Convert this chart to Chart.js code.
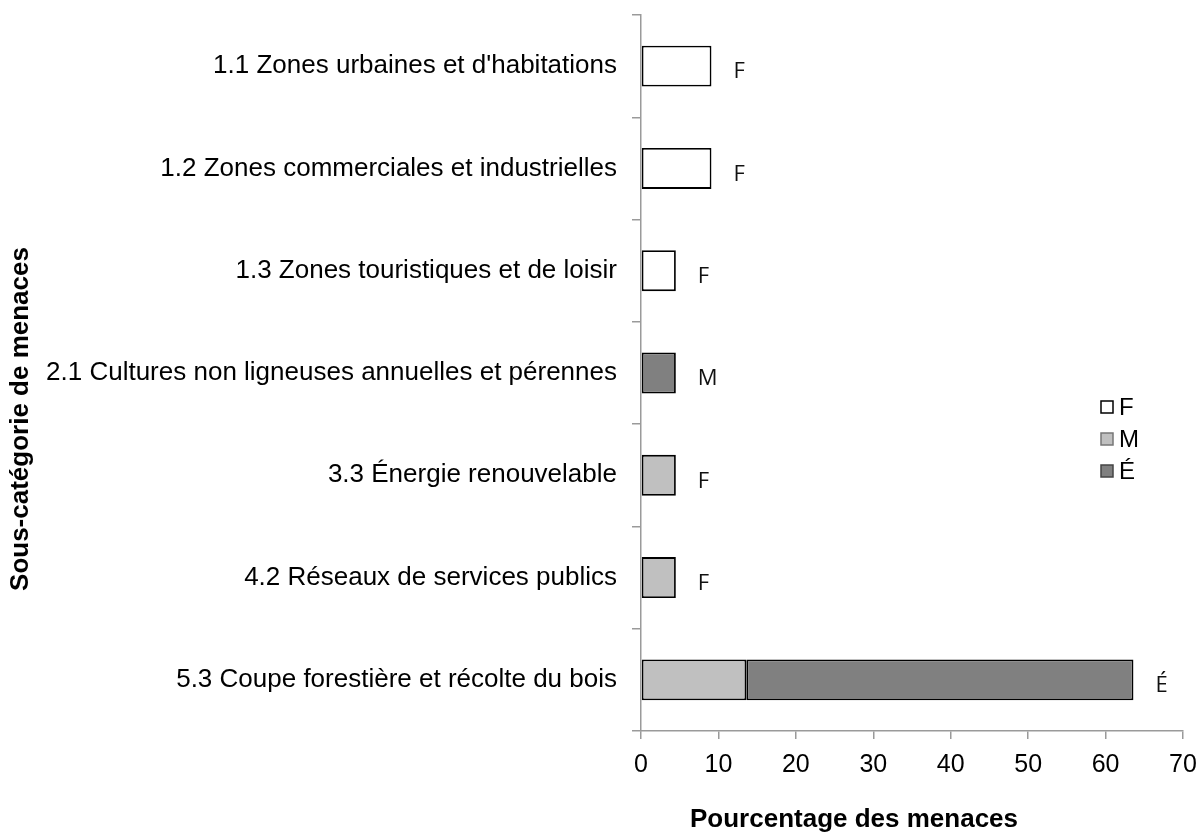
<!DOCTYPE html>
<html>
<head>
<meta charset="utf-8">
<script src="https://cdn.jsdelivr.net/npm/chart.js@4"></script>
<style>
  body { margin: 0; background: #fff; }
</style>
</head>
<body>
<canvas id="threatsChart" width="1201" height="833"></canvas>
<script>
// Sub-categories of threats (y axis, top to bottom)
const categories = [
    "1.1 Zones urbaines et d'habitations",
    "1.2 Zones commerciales et industrielles",
    "1.3 Zones touristiques et de loisir",
    "2.1 Cultures non ligneuses annuelles et pérennes",
    "3.3 Énergie renouvelable",
    "4.2 Réseaux de services publics",
    "5.3 Coupe forestière et récolte du bois"
];

// Percentage of threats per level (null = no bar)
const valuesF = [9.1, 9.1, 4.5, null, null, null, null];
const valuesM = [null, null, null, null, 4.5, 4.5, 13.6];
const valuesE = [null, null, null, 4.5, null, null, 50];

// Letter written at the end of each bar
const barLetters = ['F', 'F', 'F', 'M', 'F', 'F', 'É'];

const xTicks = [0, 10, 20, 30, 40, 50, 60, 70];

const axisGray = '#9a9a9a';

Chart.defaults.font.family = "'Liberation Sans', Arial, sans-serif";
Chart.defaults.font.size = 25;
Chart.defaults.color = '#000';

// Letters after the bars, axis titles and the small legend on the right
const extras = {
    id: 'extras',
    afterDraw(chart) {
        const ctx = chart.ctx;
        const x = chart.scales.x;
        const y = chart.scales.y;
        ctx.save();

        // letters
        ctx.font = "22px 'Open Sans', sans-serif";
        ctx.fillStyle = '#111';
        ctx.textAlign = 'left';
        ctx.textBaseline = 'middle';
        barLetters.forEach((letter, i) => {
            let end = 0;
            chart.data.datasets.forEach(ds => { end += ds.data[i] || 0; });
            ctx.fillText(letter, x.getPixelForValue(end) + 22, y.getPixelForValue(i) + 6);
        });

        // axis titles
        ctx.font = "bold 26px 'Liberation Sans', Arial, sans-serif";
        ctx.fillStyle = '#000';
        ctx.textAlign = 'center';
        ctx.fillText('Pourcentage des menaces', 854, 820);
        ctx.translate(21, 419);
        ctx.rotate(-Math.PI / 2);
        ctx.fillText('Sous-catégorie de menaces', 0, 0);
        ctx.setTransform(1, 0, 0, 1, 0, 0);

        // legend
        const strokes = ['#000', '#777', '#444'];
        ctx.font = "24px 'Liberation Sans', Arial, sans-serif";
        ctx.textAlign = 'left';
        chart.data.datasets.forEach((ds, i) => {
            const cy = 407 + i * 32;
            ctx.fillStyle = ds.backgroundColor;
            ctx.fillRect(1101, cy - 6, 12, 12);
            ctx.strokeStyle = strokes[i];
            ctx.lineWidth = 1.5;
            ctx.strokeRect(1101, cy - 6, 12, 12);
            ctx.fillStyle = '#000';
            ctx.fillText(ds.label, 1119, cy + 1);
        });
        ctx.restore();
    }
};

var threatsChart = new Chart(document.getElementById('threatsChart').getContext('2d'), {
    type: 'bar',
    data: {
        labels: categories,
        datasets: [
            { label: 'F', data: valuesF, backgroundColor: '#ffffff' },
            { label: 'M', data: valuesM, backgroundColor: '#c0c0c0' },
            { label: 'É', data: valuesE, backgroundColor: '#808080' }
        ]
    },
    options: {
        indexAxis: 'y',
        responsive: false,
        animation: false,
        layout: { padding: { top: 15, right: 18, left: 0, bottom: 0 } },
        datasets: {
            bar: {
                borderColor: '#000',
                borderWidth: 1.8,
                borderSkipped: false,
                categoryPercentage: 1,
                barPercentage: 0.4
            }
        },
        scales: {
            x: {
                stacked: true,
                min: 0,
                max: 70,
                afterBuildTicks: (scale) => { scale.ticks = xTicks.map(v => ({ value: v })); },
                grid: { drawOnChartArea: false, tickLength: 8, color: axisGray, lineWidth: 1.5 },
                border: { color: axisGray, width: 1.5 },
                ticks: { padding: 11, color: '#000' },
                afterFit: (scale) => {
                    scale.height = 102;
                    scale.paddingLeft = 0;
                    scale.paddingRight = 0;
                }
            },
            y: {
                stacked: true,
                grid: { drawOnChartArea: false, tickLength: 9, color: axisGray, lineWidth: 1.5 },
                border: { color: axisGray, width: 1.5 },
                ticks: { padding: 15, color: '#000', font: { size: 26 } },
                afterFit: (scale) => {
                    scale.width = 641;
                    scale.paddingTop = 0;
                    scale.paddingBottom = 0;
                }
            }
        },
        plugins: {
            legend: { display: false },
            tooltip: { enabled: false }
        }
    },
    plugins: [extras]
});
</script>
</body>
</html>
